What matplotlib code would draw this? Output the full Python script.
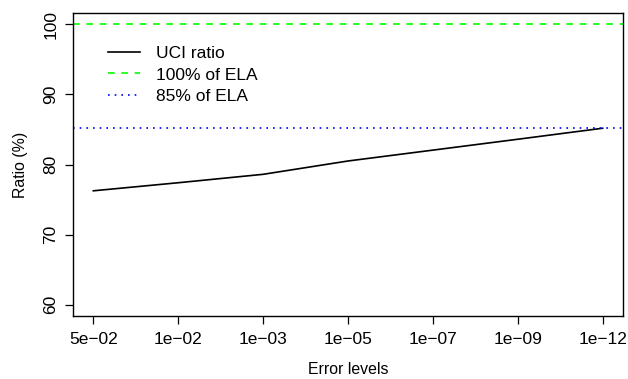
import matplotlib
matplotlib.use("Agg")
import matplotlib.pyplot as plt

error_levels = ["5e\u221202", "1e\u221202", "1e\u221203", "1e\u221205", "1e\u221207", "1e\u221209", "1e\u221212"]
uci_ratio = [76.25, 77.4, 78.6, 80.5, 82.05, 83.6, 85.17]
ela_100 = 100.0
ela_85 = 85.17
y_ticks = [60, 70, 80, 90, 100]

plt.rcParams['font.family'] = ['Liberation Sans', 'DejaVu Sans']

fig = plt.figure(figsize=(6.28, 3.79), dpi=100)
ax = fig.add_axes([73/628, 1-316/379, 550/628, 303/379])

x = list(range(1, len(error_levels)+1))
lw = 1.2
ax.plot(x, uci_ratio, color='black', lw=lw, label='UCI ratio')
ax.axhline(ela_100, color='#00FF00', lw=lw, ls=(0, (4, 4)), label='100% of ELA')
ax.axhline(ela_85, color='#0000FF', lw=lw, ls=(0, (1, 3)), label='85% of ELA')

ax.set_xlim(0.76, 7.24)
ax.set_ylim(58.4, 101.6)
ax.set_xticks(x)
ax.set_xticklabels(error_levels)
ax.set_yticks(y_ticks)
ax.set_yticklabels([str(v) for v in y_ticks], rotation=90, va='center')
ax.tick_params(axis='both', length=5.5, width=0.9, labelsize=12.5, pad=5)
ax.tick_params(axis='x', pad=6)
for s in ax.spines.values():
    s.set_linewidth(1.0)

ax.set_xlabel('Error levels', fontsize=11.4, labelpad=11)
ax.set_ylabel('Ratio (%)', fontsize=11.4, labelpad=11)

leg = ax.legend(loc='upper left', bbox_to_anchor=((108-73)/550, (316-46)/303),
                frameon=False, fontsize=12.5, handlelength=1.85, handletextpad=0.9,
                labelspacing=0.36, borderpad=0, borderaxespad=0)

fig.savefig('out.png', dpi=100)
